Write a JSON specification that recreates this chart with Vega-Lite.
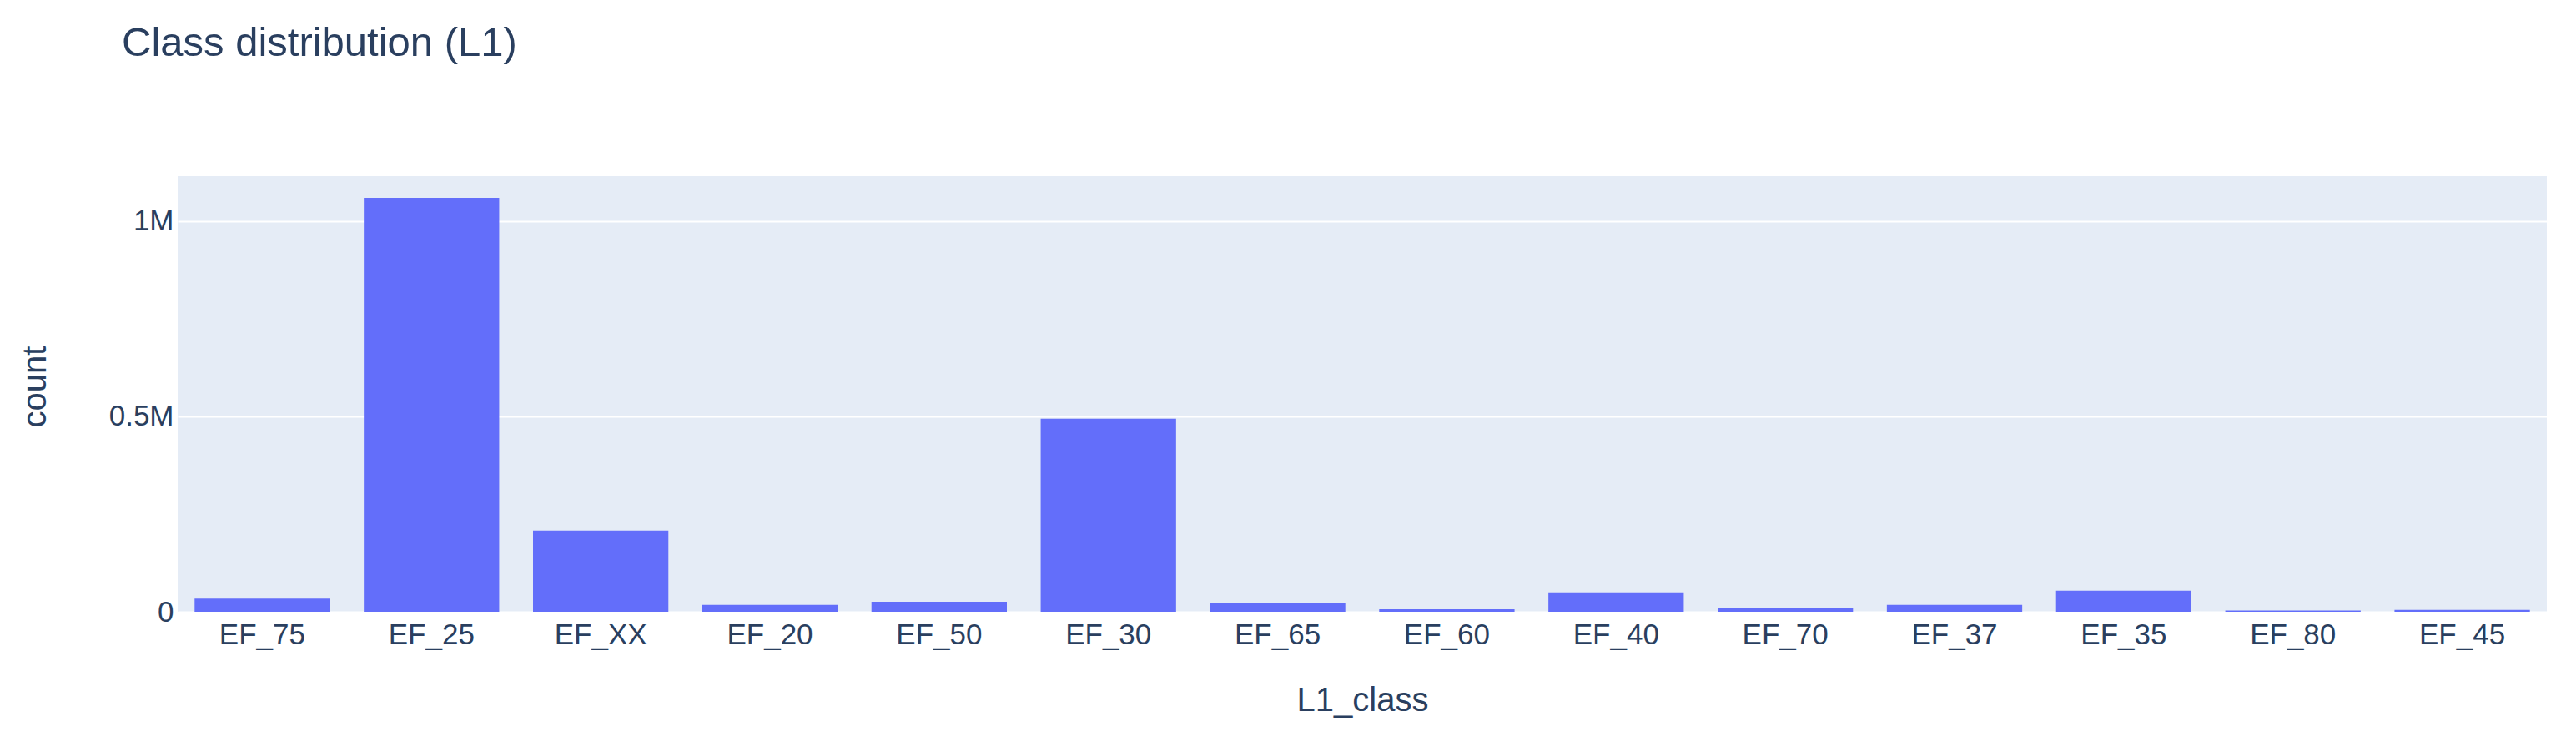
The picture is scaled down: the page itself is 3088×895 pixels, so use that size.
{
  "$schema": "https://vega.github.io/schema/vega-lite/v6.json",
  "width": 2840,
  "height": 522,
  "autosize": "none",
  "padding": {"left": 213, "top": 211, "right": 35, "bottom": 162},
  "background": "white",
  "title": {
    "text": "Class distribution (L1)",
    "anchor": "start",
    "frame": "group",
    "dx": -67,
    "offset": 95,
    "baseline": "alphabetic",
    "fontSize": 49,
    "font": "Liberation Sans",
    "fontWeight": "normal",
    "color": "#2a3f5f"
  },
  "data": {
    "values": [
      {"L1_class": "EF_75", "count": 33500},
      {"L1_class": "EF_25", "count": 1059500},
      {"L1_class": "EF_XX", "count": 207500},
      {"L1_class": "EF_20", "count": 17500},
      {"L1_class": "EF_50", "count": 25500},
      {"L1_class": "EF_30", "count": 494000},
      {"L1_class": "EF_65", "count": 23000},
      {"L1_class": "EF_60", "count": 6500},
      {"L1_class": "EF_40", "count": 49500},
      {"L1_class": "EF_70", "count": 8500},
      {"L1_class": "EF_37", "count": 17500},
      {"L1_class": "EF_35", "count": 54000},
      {"L1_class": "EF_80", "count": 3000},
      {"L1_class": "EF_45", "count": 5000}
    ]
  },
  "config": {
    "view": {"fill": "#e5ecf6", "stroke": null},
    "font": "Liberation Sans"
  },
  "mark": {"type": "bar", "color": "#636efa"},
  "encoding": {
    "x": {
      "field": "L1_class",
      "type": "nominal",
      "sort": null,
      "scale": {"paddingInner": 0.2, "paddingOuter": 0.1},
      "axis": {
        "title": "L1_class",
        "labelAngle": 0,
        "labelFontSize": 35,
        "labelColor": "#2a3f5f",
        "labelBaseline": "alphabetic",
        "labelPadding": 38,
        "ticks": false,
        "domain": false,
        "grid": false,
        "titleFontSize": 40,
        "titleFontWeight": "normal",
        "titleColor": "#2a3f5f",
        "titleBaseline": "middle",
        "titleY": 106
      }
    },
    "y": {
      "field": "count",
      "type": "quantitative",
      "scale": {"domain": [0, 1115000], "nice": false},
      "axis": {
        "title": "count",
        "values": [0, 500000, 1000000],
        "labelExpr": "datum.value == 0 ? '0' : (datum.value / 1000000) + 'M'",
        "labelFontSize": 35,
        "labelColor": "#2a3f5f",
        "labelPadding": 5,
        "ticks": false,
        "domain": false,
        "gridColor": "white",
        "gridWidth": 2,
        "titleFontSize": 40,
        "titleFontWeight": "normal",
        "titleColor": "#2a3f5f",
        "titleBaseline": "middle",
        "titleAlign": "center",
        "titleX": -171,
        "titleY": 252
      }
    }
  }
}
